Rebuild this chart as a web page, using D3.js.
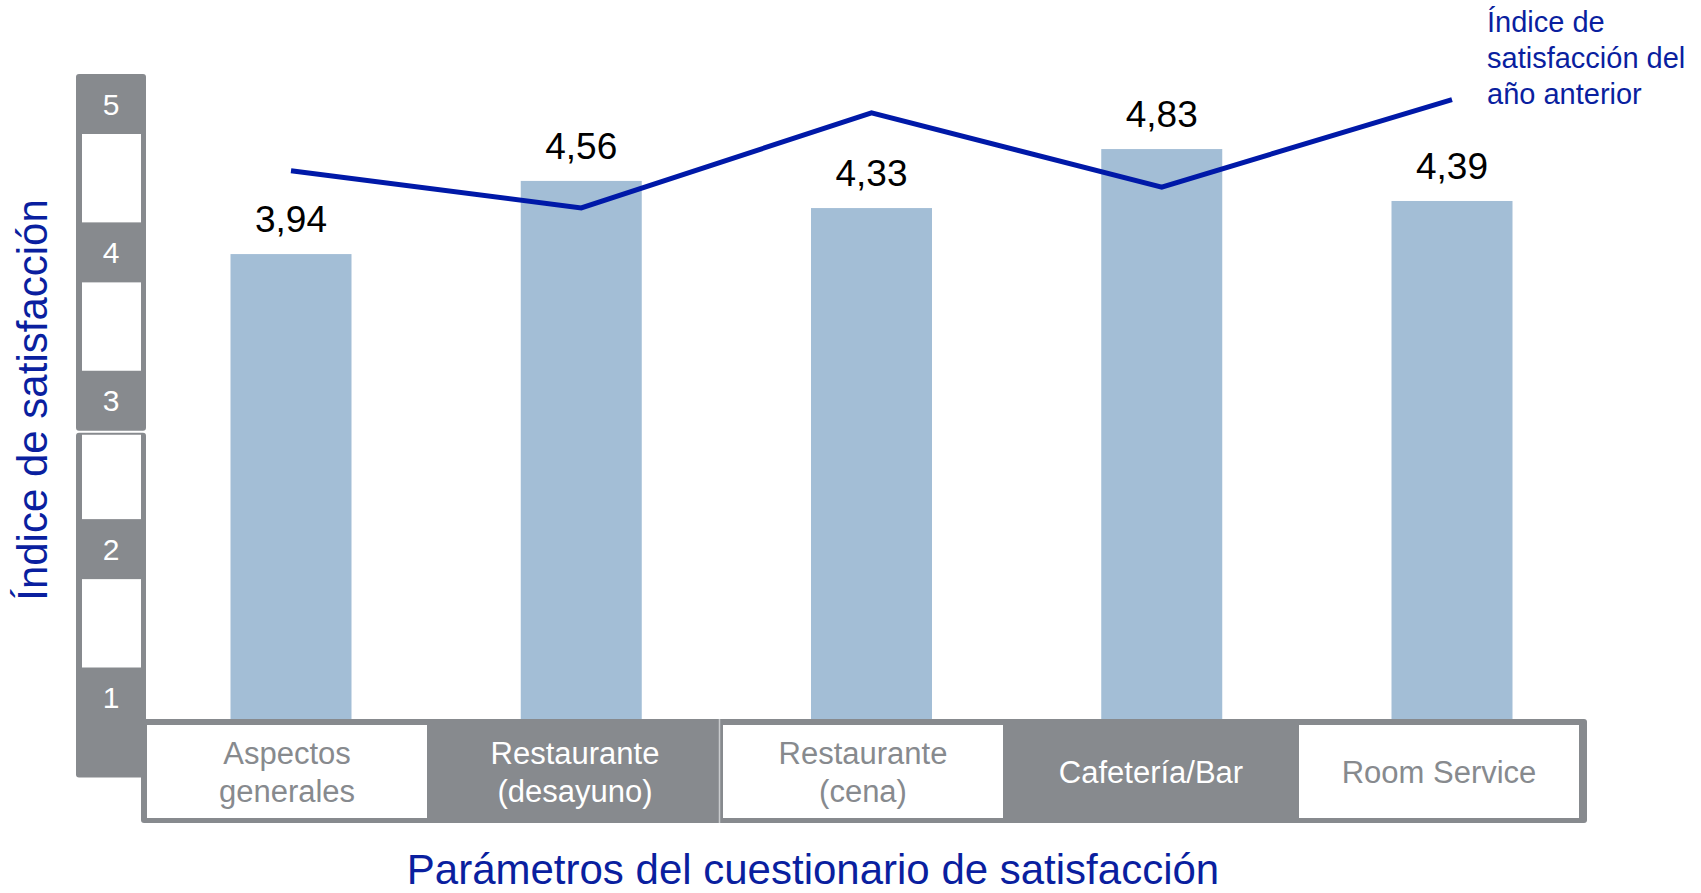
<!DOCTYPE html>
<html>
<head>
<meta charset="utf-8">
<script src="https://cdn.jsdelivr.net/npm/d3@7"></script>
<style>
  body { margin: 0; background: #fff; }
  text { font-family: "Liberation Sans", Arial, sans-serif; }
</style>
</head>
<body>
<div class="view"></div>
<script>
// datos
const categories = ['Aspectos generales', 'Restaurante (desayuno)', 'Restaurante (cena)', 'Cafetería/Bar', 'Room Service']
const catLines = [['Aspectos', 'generales'], ['Restaurante', '(desayuno)'], ['Restaurante', '(cena)'], ['Cafetería/Bar'], ['Room Service']]
const values = [3.94, 4.56, 4.33, 4.83, 4.39]
const prevValues = [4.55, 4.30, 4.94, 4.44, 5.03]
const ticks = [1, 2, 3, 4, 5]

const w = 1701
const h = 893
const gray = '#878a8e'
const blue = '#0a1f9f'

const svg = d3.select('.view')
    .append('svg')
    .attr('width', w)
    .attr('height', h)

// escalas
const xBox = d3.scaleBand().domain(categories).range([143, 1583])
const xMark = d3.scalePoint().domain(categories).range([291, 1452])
const yBar = d3.scaleLinear().domain([0, 5]).range([719, 129])
const yAxis = d3.scaleLinear().domain([1, 5]).range([697.5, 104])

// columna del eje (decorativa)
const colX = 76, colW = 70
svg.append('rect')
    .attr('x', colX).attr('y', yAxis(5) - 30)
    .attr('width', colW).attr('height', yAxis(3) + 30 - (yAxis(5) - 30))
    .attr('rx', 3).attr('fill', gray)
svg.append('rect')
    .attr('x', colX).attr('y', yAxis(3) + 32)
    .attr('width', colW).attr('height', yAxis(1) + 80 - (yAxis(3) + 32))
    .attr('rx', 3).attr('fill', gray)

svg.selectAll('.gap')
    .data(ticks.slice(0, 4))
    .enter()
    .append('rect')
    .attr('class', 'gap')
    .attr('x', colX + 6)
    .attr('width', colW - 11)
    .attr('y', d => d == 2 ? yAxis(3) + 34 : yAxis(d + 1) + 30)
    .attr('height', d => yAxis(d) - 30 - (d == 2 ? yAxis(3) + 34 : yAxis(d + 1) + 30))
    .attr('fill', '#fff')

svg.selectAll('.tick-label')
    .data(ticks)
    .enter()
    .append('text')
    .attr('class', 'tick-label')
    .attr('x', colX + colW / 2)
    .attr('y', d => yAxis(d))
    .attr('text-anchor', 'middle')
    .attr('dominant-baseline', 'central')
    .attr('font-size', 30)
    .attr('fill', '#fff')
    .text(d => d)

// marco de categorías
const fy0 = 719, fy1 = 823
svg.append('rect')
    .attr('x', xBox.range()[0] - 2).attr('y', fy0)
    .attr('width', xBox.range()[1] - xBox.range()[0] + 6).attr('height', fy1 - fy0)
    .attr('rx', 3).attr('fill', gray)

svg.selectAll('.box')
    .data(categories.filter((d, i) => i % 2 == 0))
    .enter()
    .append('rect')
    .attr('class', 'box')
    .attr('x', d => xBox(d) + 4)
    .attr('y', fy0 + 6)
    .attr('width', xBox.bandwidth() - 8)
    .attr('height', fy1 - fy0 - 11)
    .attr('fill', '#fff')

svg.append('line')
    .attr('x1', xBox(categories[2]) + 0.5).attr('x2', xBox(categories[2]) + 0.5)
    .attr('y1', fy0).attr('y2', fy1)
    .attr('stroke', '#c9cbcd').attr('stroke-width', 1.5)

categories.forEach((c, i) => {
    const lines = catLines[i]
    const t = svg.append('text')
        .attr('text-anchor', 'middle')
        .attr('font-family', 'Roboto, sans-serif')
        .attr('font-size', 31)
        .attr('fill', i % 2 == 0 ? gray : '#fff')
    lines.forEach((l, j) => {
        t.append('tspan')
            .attr('x', xBox(c) + xBox.bandwidth() / 2)
            .attr('y', 772 + (j - (lines.length - 1) / 2) * 38)
            .attr('dominant-baseline', 'central')
            .text(l)
    })
})

// barras
const barW = 121
svg.selectAll('.bar')
    .data(values)
    .enter()
    .append('rect')
    .attr('class', 'bar')
    .attr('x', (d, i) => xMark(categories[i]) - barW / 2)
    .attr('y', d => yBar(d))
    .attr('width', barW)
    .attr('height', d => yBar(0) - yBar(d))
    .attr('fill', '#a3bed6')

svg.selectAll('.val')
    .data(values)
    .enter()
    .append('text')
    .attr('class', 'val')
    .attr('x', (d, i) => xMark(categories[i]))
    .attr('y', d => yBar(d) - 22)
    .attr('text-anchor', 'middle')
    .attr('font-size', 37)
    .attr('fill', '#000')
    .text(d => d.toFixed(2).replace('.', ','))

// línea del año anterior
const line = d3.line()
    .x((d, i) => xMark(categories[i]))
    .y(d => yAxis(d))

svg.append('path')
    .datum(prevValues)
    .attr('d', line)
    .attr('fill', 'none')
    .attr('stroke', '#0019a8')
    .attr('stroke-width', 5)
    .attr('stroke-linejoin', 'miter')

// textos
svg.append('text')
    .attr('transform', 'translate(32.5,400) rotate(-90)')
    .attr('text-anchor', 'middle')
    .attr('dominant-baseline', 'central')
    .attr('font-size', 42)
    .attr('fill', blue)
    .text('Índice de satisfacción')

svg.append('text')
    .attr('x', 813).attr('y', 869)
    .attr('text-anchor', 'middle')
    .attr('dominant-baseline', 'central')
    .attr('font-size', 42)
    .attr('fill', blue)
    .text('Parámetros del cuestionario de satisfacción')

const note = svg.append('text')
    .attr('font-size', 29)
    .attr('fill', blue)
;['Índice de', 'satisfacción del', 'año anterior'].forEach((l, j) => {
    note.append('tspan')
        .attr('x', 1487)
        .attr('y', 22 + j * 35.8)
        .attr('dominant-baseline', 'central')
        .text(l)
})
</script>
</body>
</html>
